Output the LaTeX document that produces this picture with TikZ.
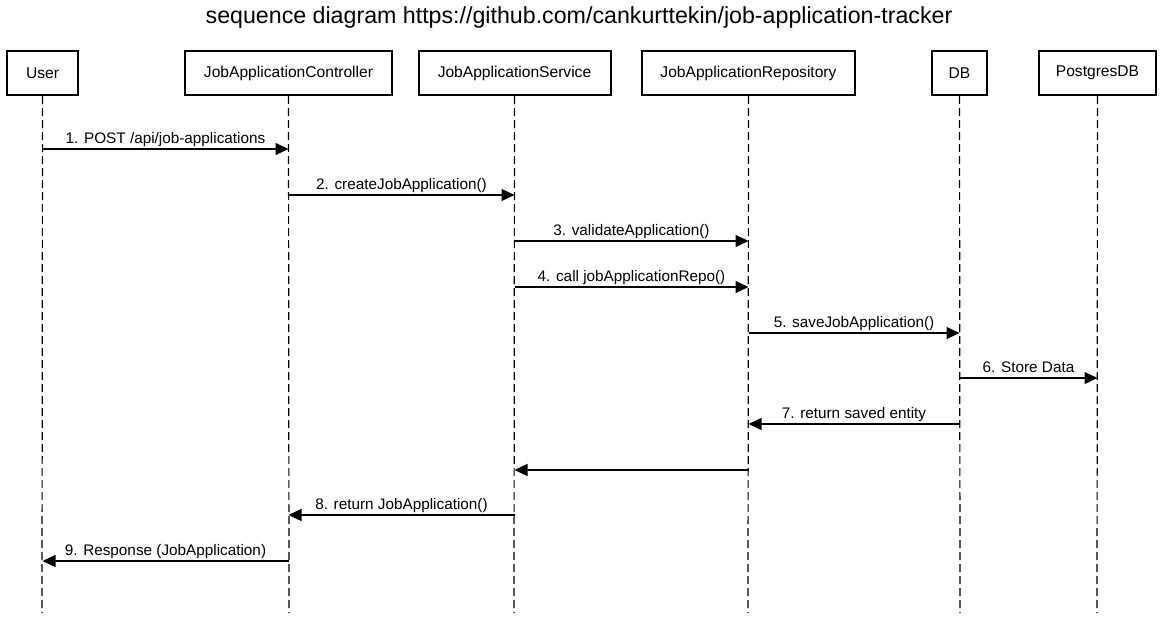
\documentclass[tikz,border=0pt]{standalone}
\usepackage{fontspec}
\setmainfont{Liberation Sans}
\usetikzlibrary{arrows.meta,calc}
\begin{document}
\begin{tikzpicture}[x=1pt,y=-1pt,
  actor/.style={draw,line width=2pt,minimum height=44pt,inner sep=0pt,font=\fontsize{15.6}{17}\selectfont},
  life/.style={line width=1.2pt,dash pattern=on 8pt off 4pt},
  msg/.style={line width=1.2pt,-{Triangle[length=13pt,width=12pt]}},
  lbl/.style={font=\fontsize{15.3}{17}\selectfont,anchor=base,inner sep=0pt}]
\useasboundingbox (0,0) rectangle (1164,618);
\node[font=\fontsize{23.2}{26}\selectfont] (title) at (579,18) {sequence diagram https://github.com/cankurttekin/job-application-tracker};
\node[actor,minimum width=71pt] (user) at (42.5,73) {User};
\node[actor,minimum width=207pt] (ctrl) at (288.5,73) {JobApplicationController};
\node[actor,minimum width=192pt] (svc) at (514.5,73) {JobApplicationService};
\node[actor,minimum width=213pt] (repo) at (748.5,73) {JobApplicationRepository};
\node[actor,minimum width=55pt] (db) at (959.5,73) {DB};
\node[actor,minimum width=117pt] (pg) at (1097.5,73) {PostgresDB};
\foreach \n/\x in {user/42,ctrl/289,svc/514,repo/748,db/960,pg/1097}{
  \coordinate (\n-end) at (\x,613);
  \draw[life] (\n.south) -- (\n-end);
}
% messages
\foreach \i/\a/\b/\y/\t in {
  m1/user/ctrl/149/{1. POST /api/job-applications},
  m2/ctrl/svc/195/{2. createJobApplication()},
  m3/svc/repo/241/{3. validateApplication()},
  m4/svc/repo/287/{4. call jobApplicationRepo()},
  m5/repo/db/333/{5. saveJobApplication()},
  m6/db/pg/378/{6. Store Data},
  m7/db/repo/424/{7. return saved entity},
  m8/repo/svc/470/{},
  m9/svc/ctrl/515/{8. return JobApplication()},
  m10/ctrl/user/561/{9. Response (JobApplication)}}{
  \coordinate (\i-s) at (\a.south |- 0,\y);
  \coordinate (\i-e) at (\b.south |- 0,\y);
  \draw[msg] (\i-s) -- (\i-e);
  \node[lbl] (\i-l) at ($(\i-s)!0.5!(\i-e)+(0,-6)$) {\t};
}
\end{tikzpicture}
\end{document}
